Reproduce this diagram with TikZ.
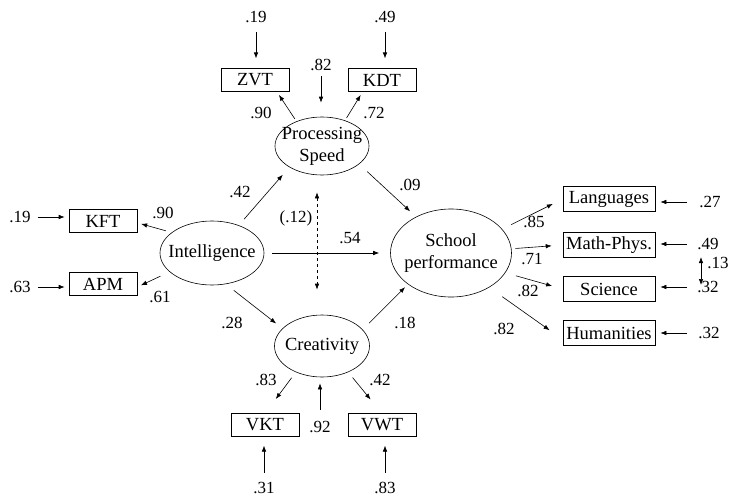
\documentclass[tikz,border=0pt]{standalone}
\usepackage{fontspec}
\setmainfont{Liberation Serif}
\usetikzlibrary{shapes.geometric,arrows.meta}
\tikzstyle{box} = [draw, rectangle, inner sep=0pt,
    minimum height=22.5pt, minimum width=68pt, font=\fontsize{18.5}{22}\selectfont]
\tikzstyle{wbox} = [box, minimum height=25pt, minimum width=92pt]
\tikzstyle{latent} = [draw, ellipse, inner xsep=-15pt, inner ysep=0pt, align=center,
    font=\fontsize{18.5}{22}\selectfont]
\tikzstyle{num} = [inner sep=0pt, font=\fontsize{17}{20}\selectfont]
\tikzstyle{arr} = [-{Latex[length=6pt,width=4.5pt]}, shorten >=4pt, shorten <=3pt]

\begin{document}
\begin{tikzpicture}[x=1pt, y=-1pt, line width=0.6pt]
\useasboundingbox (0,0) rectangle (729,498);

% latent variables
\node[latent, minimum width=104pt, minimum height=64pt] (intel) at (212,253) {Intelligence};
\node[latent, minimum width=94pt, minimum height=58pt] (speed) at (322,146) {Processing\\Speed};
\node[latent, minimum width=95pt, minimum height=62pt] (creat) at (322,346) {Creativity};
\node[latent, minimum width=121pt, minimum height=88pt] (school) at (451,253) {School\\performance};

% indicators
\node[box] (zvt) at (255,80) {ZVT};
\node[box] (kdt) at (382,80) {KDT};
\node[box] (kft) at (103,221) {KFT};
\node[box] (apm) at (103,284) {APM};
\node[box] (vkt) at (265,425) {VKT};
\node[box] (vwt) at (382,425) {VWT};
\node[wbox] (lang) at (609,199) {Languages};
\node[wbox] (math) at (609,245) {Math-Phys.};
\node[wbox] (sci) at (609,289) {Science};
\node[wbox] (hum) at (609,333) {Humanities};

% residuals
\node[num] (ezvt) at (256,17) {.19};
\node[num] (ekdt) at (385,17) {.49};
\node[num] (espeed) at (321,65) {.82};
\node[num] (ekft) at (20,217) {.19};
\node[num] (eapm) at (20,287) {.63};
\node[num] (ecreat) at (320,427) {.92};
\node[num] (evkt) at (264,488) {.31};
\node[num] (evwt) at (385,488) {.83};
\node[num] (elang) at (710,202) {.27};
\node[num] (emath) at (708,244) {.49};
\node[num] (esci) at (708,287) {.32};
\node[num] (ehum) at (709,333) {.32};

\draw[arr, shorten <=9pt, shorten >=10pt] (ezvt) -- (ezvt |- zvt.north);
\draw[arr, shorten <=9pt, shorten >=10pt] (ekdt) -- (ekdt |- kdt.north);
\draw[arr, shorten <=5pt, shorten >=14pt] (espeed) -- (espeed |- speed.north);
\draw[arr, shorten <=11pt, shorten >=6pt] (ecreat) -- (ecreat |- creat.south);
\draw[arr, shorten <=9pt, shorten >=9pt] (evkt) -- (evkt |- vkt.south);
\draw[arr, shorten <=9pt, shorten >=9pt] (evwt) -- (evwt |- vwt.south);
\draw[arr, shorten <=7pt] (ekft) -- (ekft -| kft.west);
\draw[arr, shorten <=7pt] (eapm) -- (eapm -| apm.west);
\draw[arr, shorten <=12pt, shorten >=5pt] (elang) -- (elang -| lang.east);
\draw[arr, shorten <=10pt, shorten >=5pt] (emath) -- (emath -| math.east);
\draw[arr, shorten <=10pt, shorten >=5pt] (esci) -- (esci -| sci.east);
\draw[arr, shorten <=11pt, shorten >=5pt] (ehum) -- (ehum -| hum.east);
\draw[{Latex[length=6pt,width=4.5pt]}-{Latex[length=6pt,width=4.5pt]}, shorten <=7pt, shorten >=2pt]
    ([xshift=-7pt]emath.south) -- ([xshift=-7pt]esci.center);
\node[num] (l13) at (718,263) {.13};

% loadings
\draw[arr] (speed.136) -- (zvt.-28);
\draw[arr] (speed.48) -- (kdt.211);
\draw[arr, shorten <=6pt] (intel.153) -- (kft.-3);
\draw[arr, shorten <=10pt] (intel.204) -- (apm.-5);
\draw[arr, shorten <=7pt, shorten >=18pt] (creat.225) -- (vkt.north);
\draw[arr, shorten <=7pt, shorten >=18pt] (creat.-45) -- (vwt.north);
\node[num] (l90a) at (261,113) {.90};
\node[num] (l72) at (374,113) {.72};
\node[num] (l90b) at (163,213) {.90};
\node[num] (l61) at (160,297) {.61};
\node[num] (l83) at (266,380) {.83};
\node[num] (l42b) at (380,380) {.42};

\draw[arr, shorten <=10pt, shorten >=11pt] (school.25) -- (lang.west);
\draw[arr, shorten <=4pt, shorten >=11pt] (school.4) -- (math.west);
\draw[arr, shorten <=11pt, shorten >=11pt] (school.-20) -- (sci.west);
\draw[arr, shorten <=16pt, shorten >=16pt] (school.-42) -- (hum.188);
\node[num] (l85) at (534,222) {.85};
\node[num] (l71) at (532,259) {.71};
\node[num] (l82a) at (528,291) {.82};
\node[num] (l82b) at (504,329) {.82};

% structural paths
\draw[arr, shorten <=8pt, shorten >=10pt] (intel.46) -- (speed.213);
\draw[arr, shorten <=10pt, shorten >=8pt] (intel.-66) -- (creat.156);
\draw[arr, shorten <=11pt, shorten >=8pt] (speed.-26) -- (school.134);
\draw[arr, shorten <=9pt] (creat.22) -- (school.216);
\draw[arr, shorten <=8pt, shorten >=11pt] (intel.east) -- (school.west);
\draw[{Latex[length=6pt,width=4.5pt]}-{Latex[length=6pt,width=4.5pt]}, dashed, shorten <=17pt, shorten >=25pt]
    ([xshift=-5pt]speed.south) -- ([xshift=-5pt]creat.north);
\node[num] (l42) at (240,192) {.42};
\node[num] (l09) at (410,185) {.09};
\node[num] (l54) at (350,238) {.54};
\node[num] (l12) at (296,218) {(.12)};
\node[num] (l28) at (232,323) {.28};
\node[num] (l18) at (405,323) {.18};
\end{tikzpicture}
\end{document}
